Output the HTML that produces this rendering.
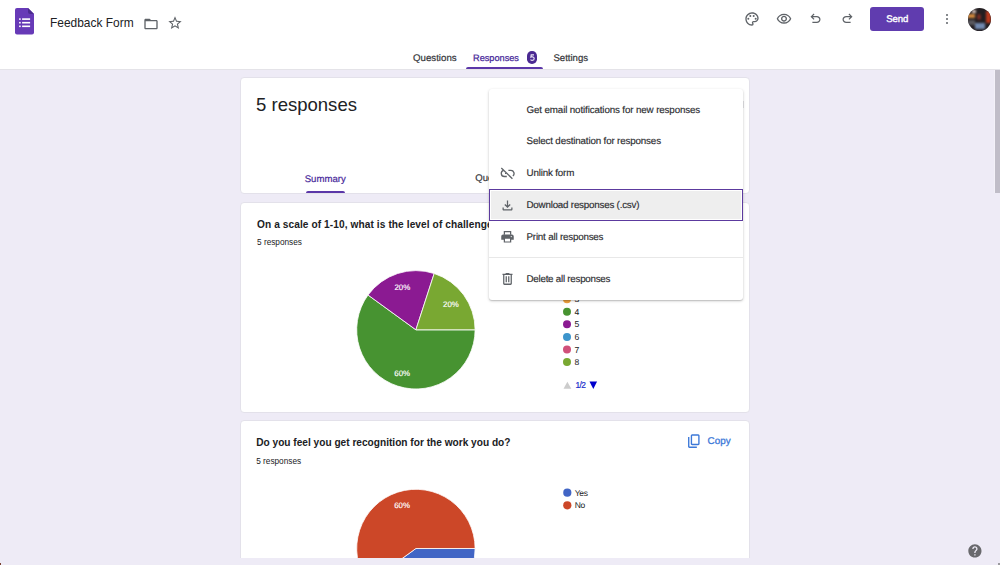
<!DOCTYPE html>
<html><head><meta charset="utf-8"><title>Feedback Form - Google Forms</title>
<style>
*{margin:0;padding:0;box-sizing:border-box}
html,body{width:1000px;height:565px;overflow:hidden}
body{background:#eeebf6;font-family:"Liberation Sans",sans-serif;position:relative;color:#202124}
.a{position:absolute;white-space:nowrap;line-height:1}
#hdr{position:absolute;left:0;top:0;width:1000px;height:70px;background:#fff;border-bottom:1px solid #e4e3e8}
.card{position:absolute;left:240px;width:510px;background:#fff;border:1px solid #e3e1ea;border-radius:4px}
#clip{position:absolute;left:0;top:70px;width:1000px;height:488px;overflow:hidden}
.ic{position:absolute;fill:#5f6368}
.mi{position:absolute;left:526.5px;font-size:9.8px;text-rendering:geometricPrecision;letter-spacing:-0.17px;color:#2b2c2f;-webkit-text-stroke:0.15px #2b2c2f;line-height:1}
.dot{position:absolute;width:8px;height:8px;border-radius:50%}
.lg{position:absolute;font-size:8px;color:#222;line-height:1}
</style></head>
<body>
<div id="hdr">
  <!-- forms icon -->
  <svg class="ic" style="left:15px;top:8.4px" width="19" height="27" viewBox="0 0 19 27">
    <path d="M2 0H13L19 6V24.5a2 2 0 0 1-2 2H2a2 2 0 0 1-2-2V2a2 2 0 0 1 2-2z" fill="#673ab7"/>
    <path d="M13 0L19 6H15a2 2 0 0 1-2-2z" fill="#4b2a8f"/>
    <rect x="4.1" y="10.3" width="1.6" height="1.6" fill="#fff"/><rect x="7.1" y="10.3" width="8" height="1.6" fill="#fff"/>
    <rect x="4.1" y="13.9" width="1.6" height="1.6" fill="#fff"/><rect x="7.1" y="13.9" width="8" height="1.6" fill="#fff"/>
    <rect x="4.1" y="17.5" width="1.6" height="1.6" fill="#fff"/><rect x="7.1" y="17.5" width="8" height="1.6" fill="#fff"/>
  </svg>
  <div class="a" style="left:50px;top:17.5px;font-size:11.95px;color:#202124">Feedback Form</div>
  <!-- folder -->
  <svg class="ic" style="left:143px;top:15.5px" width="16" height="16" viewBox="0 0 24 24"><path d="M20 6h-8l-2-2H4c-1.1 0-1.99.9-1.99 2L2 18c0 1.1.9 2 2 2h16c1.1 0 2-.9 2-2V8c0-1.1-.9-2-2-2zm0 12H4V8h16v10z"/></svg>
  <!-- star -->
  <svg class="ic" style="left:167px;top:14.5px" width="16" height="16" viewBox="0 0 24 24"><path d="M22 9.24l-7.19-.62L12 2 9.19 8.63 2 9.24l5.46 4.73L5.82 21 12 17.27 18.18 21l-1.63-7.03L22 9.24zM12 15.4l-3.76 2.27 1-4.28-3.32-2.88 4.38-.38L12 6.1l1.71 4.04 4.38.38-3.32 2.88 1 4.28L12 15.4z"/></svg>

  <!-- right icons -->
  <svg class="ic" style="left:744px;top:11px" width="16" height="16" viewBox="0 0 24 24"><path d="M12 22C6.49 22 2 17.51 2 12S6.49 2 12 2s10 4.04 10 9c0 3.31-2.69 6-6 6h-1.77c-.28 0-.5.22-.5.5 0 .12.05.23.13.33.41.47.64 1.06.64 1.67A2.5 2.5 0 0 1 12 22zm0-18c-4.41 0-8 3.59-8 8s3.59 8 8 8c.28 0 .5-.22.5-.5a.54.54 0 0 0-.14-.35c-.41-.46-.63-1.05-.63-1.65a2.5 2.5 0 0 1 2.5-2.5H16c2.21 0 4-1.79 4-4 0-3.86-3.59-7-8-7z"/><circle cx="6.5" cy="11.5" r="1.5"/><circle cx="9.5" cy="7.5" r="1.5"/><circle cx="14.5" cy="7.5" r="1.5"/><circle cx="17.5" cy="11.5" r="1.5"/></svg>
  <svg class="ic" style="left:776px;top:11px" width="16" height="16" viewBox="0 0 24 24"><path d="M12 6a9.77 9.77 0 0 1 8.82 5.5C19.17 14.87 15.79 17 12 17s-7.17-2.13-8.82-5.5A9.77 9.77 0 0 1 12 6m0-2C7 4 2.73 7.11 1 11.5 2.73 15.89 7 19 12 19s9.27-3.11 11-7.5C21.27 7.11 17 4 12 4zm0 5a2.5 2.5 0 0 1 0 5 2.5 2.5 0 0 1 0-5m0-2c-2.48 0-4.5 2.02-4.5 4.5S9.52 16 12 16s4.5-2.02 4.5-4.5S14.48 7 12 7z"/></svg>
  <svg class="ic" style="left:808.4px;top:11.3px" width="15" height="15" viewBox="0 -960 960 960"><path d="M280-200v-80h284q63 0 109.5-40T720-420q0-60-46.5-100T564-560H312l104 104-56 56-200-200 200-200 56 56-104 104h252q97 0 166.5 63T800-420q0 94-69.5 157T564-200H280Z"/></svg>
  <svg class="ic" style="left:839.5px;top:11.3px" width="15" height="15" viewBox="0 -960 960 960"><path d="M396-200q-97 0-166.5-63T160-420q0-94 69.5-157T396-640h252L544-744l56-56 200 200-200 200-56-56 104-104H396q-63 0-109.5 40T240-420q0 60 46.5 100T396-280h284v80H396Z"/></svg>

  <div class="a" style="left:870px;top:7px;width:54px;height:24px;background:#603caf;border-radius:3px"></div>
  <div class="a" style="text-rendering:geometricPrecision;left:886.2px;top:15.10px;font-size:9.6px;letter-spacing:-0.05px;color:#fff;-webkit-text-stroke:0.35px #fff">Send</div>

  <div class="a" style="left:945.8px;top:13.8px;width:2.6px;height:2.6px;border-radius:50%;background:#5f6368"></div>
  <div class="a" style="left:945.8px;top:17.8px;width:2.6px;height:2.6px;border-radius:50%;background:#5f6368"></div>
  <div class="a" style="left:945.8px;top:21.8px;width:2.6px;height:2.6px;border-radius:50%;background:#5f6368"></div>

  <!-- avatar -->
  <div class="a" style="left:968px;top:8px;width:23px;height:23px;border-radius:50%;overflow:hidden;background:#231e21">
    <div class="a" style="left:0;top:0;width:23px;height:23px;filter:blur(1px)">
      <div class="a" style="left:-1px;top:5.5px;width:7.5px;height:4.5px;background:#d28a3e"></div>
      <div class="a" style="left:3.5px;top:2px;width:4px;height:3px;background:#d9c6c0"></div>
      <div class="a" style="left:18px;top:3px;width:5px;height:12px;background:#b8391d"></div>
      <div class="a" style="left:8.5px;top:6px;width:4.5px;height:6px;background:#7a2d24;border-radius:40%"></div>
      <div class="a" style="left:0;top:12px;width:7px;height:5px;background:#58575d"></div>
      <div class="a" style="left:7px;top:14.5px;width:10px;height:6.5px;background:#7189b0"></div>
    </div>
  </div>

  <!-- tabs -->
  <div class="a" style="text-rendering:geometricPrecision;left:413px;top:53.70px;font-size:9.7px;color:#35363a;-webkit-text-stroke:0.2px #35363a">Questions</div>
  <div class="a" style="text-rendering:geometricPrecision;left:473px;top:54.40px;font-size:9.2px;color:#47289a;-webkit-text-stroke:0.25px #47289a">Responses</div>
  <div class="a" style="left:527.3px;top:51.4px;width:9.6px;height:12.4px;border-radius:4.8px;background:#4b2a92"></div>
  <svg class="a" style="left:528px;top:52px" width="8" height="10" viewBox="528 52 8 10"><path d="M534 54.8H531.2L530.9 57.1C531.4 56.8 531.9 56.7 532.4 56.7C533.5 56.8 534.2 57.6 534.2 58.6C534.2 59.7 533.3 60.4 532.3 60.4C531.5 60.4 530.9 60.1 530.5 59.7" fill="none" stroke="#ece6f6" stroke-width="1.15"/></svg>
  <div class="a" style="text-rendering:geometricPrecision;left:553.4px;top:54.10px;font-size:9.6px;color:#35363a;-webkit-text-stroke:0.2px #35363a">Settings</div>
  <div class="a" style="left:466px;top:67.3px;width:77px;height:2.2px;border-radius:2px 2px 0 0;background:#5b37a8"></div>
</div>

<div id="clip">
  <!-- card 1 -->
  <div class="card" style="top:7px;height:117px"></div>
  <div class="a" style="left:256px;top:26.1px;font-size:18.55px;color:#202124">5 responses</div>
  <div class="a" style="text-rendering:geometricPrecision;left:304.7px;top:104.70px;font-size:9.6px;color:#47289a;-webkit-text-stroke:0.2px #47289a">Summary</div>
  <div class="a" style="left:306px;top:121.3px;width:38.6px;height:2px;border-radius:2px 2px 0 0;background:#5b37a8"></div>
  <div class="a" style="text-rendering:geometricPrecision;left:475.2px;top:103.60px;font-size:9.6px;color:#35363a;-webkit-text-stroke:0.2px #35363a">Question</div>

  <!-- card 2 -->
  <div class="card" style="top:132px;height:211px"></div>
  <div class="a" style="left:257px;top:150px;font-size:10.15px;letter-spacing:0.09px;font-weight:bold;color:#202124">On a scale of 1-10, what is the level of challenge you face at work?</div>
  <div class="a" style="left:257px;top:169.1px;font-size:8.26px;color:#202124">5 responses</div>

  <!-- card 3 -->
  <div class="card" style="top:350px;height:220px"></div>
  <div class="a" style="left:256.2px;top:368.3px;font-size:10.15px;font-weight:bold;color:#202124">Do you feel you get recognition for the work you do?</div>
  <div class="a" style="left:256.2px;top:387.9px;font-size:8.26px;color:#202124">5 responses</div>
  <svg class="a" style="left:686px;top:362.8px" width="16.3" height="16.3" viewBox="0 -960 960 960"><path fill="#3c78d8" d="M360-240q-33 0-56.5-23.5T280-320v-480q0-33 23.5-56.5T360-880h360q33 0 56.5 23.5T800-800v480q0 33-23.5 56.5T720-240H360Zm0-80h360v-480H360v480ZM200-80q-33 0-56.5-23.5T120-160v-560h80v560h440v80H200Zm160-240v-480 480Z"/></svg>
  <div class="a" style="text-rendering:geometricPrecision;left:707.6px;top:367.30px;font-size:9.85px;color:#3c78d8;-webkit-text-stroke:0.3px #3c78d8">Copy</div>

  <!-- charts (page coordinates shifted by -70) -->
  <svg class="a" style="left:0;top:-70px" width="1000" height="640" viewBox="0 0 1000 640">
    <g stroke="#fff" stroke-width="0.8">
      <path fill="#479331" d="M415.9,329.8L475.10,329.80A59.2,59.2 0 1 1 368.01,295.00Z"/>
      <path fill="#8b1a92" d="M415.9,329.8L368.01,295.00A59.2,59.2 0 0 1 434.19,273.50Z"/>
      <path fill="#79a832" d="M415.9,329.8L434.19,273.50A59.2,59.2 0 0 1 475.10,329.80Z"/>
      <path fill="#4165c5" d="M415.9,548.5L475.10,548.50A59.2,59.2 0 0 1 368.01,583.30Z"/>
      <path fill="#cc4728" d="M415.9,548.5L368.01,583.30A59.2,59.2 0 1 1 475.10,548.50Z"/>
    </g>
    <g fill="#fff" stroke="#fff" stroke-width="0.15" font-family="Liberation Sans" font-size="7.9" text-rendering="geometricPrecision">
      <text x="394.4" y="289.6">20%</text>
      <text x="443" y="307.4">20%</text>
      <text x="394.3" y="375.5">60%</text>
      <text x="394.2" y="508.4">60%</text>
    </g>
    <!-- legend 1 -->
    <circle cx="567" cy="299.3" r="4" fill="#eda03e"/>
    <circle cx="567" cy="311.8" r="4" fill="#479331"/>
    <circle cx="567" cy="324.3" r="4" fill="#8b1a92"/>
    <circle cx="567" cy="336.9" r="4" fill="#3d95cc"/>
    <circle cx="567" cy="349.5" r="4" fill="#d0507a"/>
    <circle cx="567" cy="362" r="4" fill="#79a832"/>
    <g fill="#222" font-family="Liberation Sans" font-size="8.6" text-rendering="geometricPrecision">
      <text x="574.5" y="302.3">3</text>
      <text x="574.5" y="314.8">4</text>
      <text x="574.5" y="327.3">5</text>
      <text x="574.5" y="339.9">6</text>
      <text x="574.5" y="352.5">7</text>
      <text x="574.5" y="365">8</text>
    </g>
    <path d="M563.5 388.8L567.4 381.7L571.3 388.8Z" fill="#ccc"/>
    <text x="575.4" y="388" fill="#1a2ecc" stroke="#1a2ecc" stroke-width="0.2" font-family="Liberation Sans" font-size="8.4" letter-spacing="-0.55">1/2</text>
    <path d="M589.5 381.5L597.1 381.5L593.3 389Z" fill="#0000cc"/>
    <!-- legend 2 -->
    <circle cx="567.3" cy="492.7" r="4.1" fill="#4165c5"/>
    <circle cx="567.3" cy="505.3" r="4.1" fill="#cc4728"/>
    <g fill="#222" font-family="Liberation Sans" font-size="8.5" letter-spacing="-0.25" text-rendering="geometricPrecision">
      <text x="574.7" y="495.6">Yes</text>
      <text x="574.7" y="508.1">No</text>
    </g>
  </svg>
</div>

<!-- dropdown menu -->
<div id="menu" style="position:absolute;left:488.5px;top:88.5px;width:254.7px;height:211.5px;background:#fff;border-radius:3px;box-shadow:0 1px 3px rgba(0,0,0,.22),0 1px 1px rgba(0,0,0,.1)">
</div>
<div class="mi" style="top:105.5px;letter-spacing:-0.135px">Get email notifications for new responses</div>
<div class="mi" style="top:137.3px;letter-spacing:-0.157px">Select destination for responses</div>
<div class="mi" style="top:169.2px;letter-spacing:-0.166px">Unlink form</div>
<div class="a" style="left:489.3px;top:189.3px;width:253.9px;height:31.4px;background:#eeeeee;border:1.6px solid #5c3a9e;box-shadow:inset 0 0 0 1px #fff"></div>
<div class="mi" style="top:200.9px;letter-spacing:-0.217px">Download responses (.csv)</div>
<div class="mi" style="top:232.8px;letter-spacing:-0.201px">Print all responses</div>
<div class="a" style="left:488.5px;top:257.2px;width:254.7px;height:1px;background:#e8e8e8"></div>
<div class="mi" style="top:274.7px;letter-spacing:-0.253px">Delete all responses</div>
<!-- menu icons -->
<svg class="a" style="left:500px;top:166px" width="15" height="15" viewBox="0 0 15 15" fill="none" stroke="#5f6368" stroke-width="1.3">
  <path d="M3.6 4.4A3.1 3.1 0 0 0 4.4 10.5H6.8"/>
  <path d="M8.4 4.4H10.9A3.1 3.1 0 0 1 12.9 9.9"/>
  <path d="M1.3 2L12.4 12.8"/>
  <path d="M5 7.5H6.3" stroke-width="1.1"/>
</svg>
<svg class="a" style="left:500px;top:198px" width="15" height="15" viewBox="0 -960 960 960"><path fill="#5f6368" d="M480-320 280-520l56-58 104 104v-326h80v326l104-104 56 58-200 200ZM240-160q-33 0-56.5-23.5T160-240v-120h80v120h480v-120h80v120q0 33-23.5 56.5T720-160H240Z"/></svg>
<svg class="a" style="left:499.8px;top:229.3px" width="15" height="15" viewBox="0 0 24 24" fill="#5f6368">
  <path d="M6 3h12v6h-2V5H8v4H6z"/>
  <path d="M5 8.8h14c1.66 0 3 1.34 3 3v5.4h-4v4.5H6v-4.5H2v-5.4c0-1.66 1.34-3 3-3zM8 15.5v4.3h8v-4.3zM18 11a1 1 0 1 0 0 2 1 1 0 0 0 0-2z" fill-rule="evenodd"/>
</svg>
<svg class="a" style="left:500px;top:270.8px" width="15" height="15.9" viewBox="0 -960 960 960" preserveAspectRatio="none"><path fill="#5f6368" d="M280-120q-33 0-56.5-23.5T200-200v-520h-40v-80h200v-40h240v40h200v80h-40v520q0 33-23.5 56.5T680-120H280Zm400-600H280v520h400v-520ZM360-280h80v-360h-80v360Zm160 0h80v-360h-80v360ZM280-720v520-520Z"/></svg>

<div class="a" style="left:743.2px;top:101px;width:1px;height:7px;background:#cfcfd2"></div>
<!-- scrollbar -->
<div class="a" style="left:993.5px;top:70px;width:1.5px;height:123px;background:#f3f1f8"></div>
<div class="a" style="left:998px;top:563px;width:2px;height:2px;background:#9a9a9e"></div>
<div class="a" style="left:995px;top:70px;width:5px;height:123px;background:#c0bdc8"></div>

<div class="a" style="left:0;top:563px;width:1.3px;height:2px;background:#7a4030"></div>
<!-- help -->
<svg class="a" style="left:966.8px;top:543.1px" width="15.84" height="15.84" viewBox="0 0 24 24"><path fill="#69696d" d="M12 2C6.48 2 2 6.48 2 12s4.48 10 10 10 10-4.48 10-10S17.52 2 12 2zm1 17h-2v-2h2v2zm2.07-7.75l-.9.92C13.45 12.9 13 13.5 13 15h-2v-.5c0-1.1.45-2.1 1.17-2.830l1.24-1.26c.37-.36.59-.86.59-1.41 0-1.1-.9-2-2-2s-2 .9-2 2H8c0-2.21 1.79-4 4-4s4 1.790 4 4c0 .88-.36 1.68-.93 2.25z"/></svg>
</body></html>
